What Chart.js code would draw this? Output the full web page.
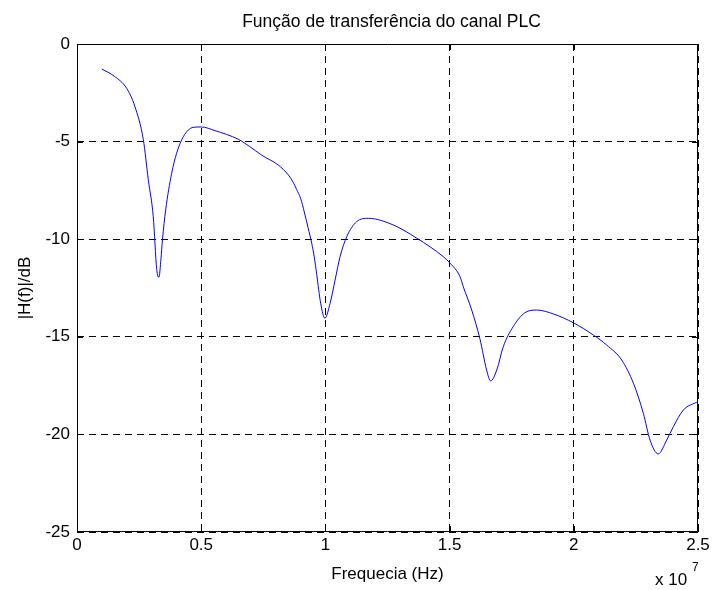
<!DOCTYPE html>
<html>
<head>
<meta charset="utf-8">
<script src="https://cdn.jsdelivr.net/npm/chart.js@4/dist/chart.umd.min.js"></script>
<style>
  html, body { margin: 0; padding: 0; background: #fff; }
  #wrap { width: 713px; height: 590px; }
</style>
</head>
<body>
<div id="wrap"><canvas id="plc_chart" width="713" height="590"></canvas></div>
<script>
// frequency in units of 1e7 Hz
var freqs = [0.10, 0.15, 0.20, 0.233, 0.267, 0.287, 0.307, 0.321, 0.330, 0.338, 0.344, 0.357, 0.381, 0.401,
             0.428, 0.468, 0.50, 0.556, 0.649, 0.696, 0.743, 0.810, 0.851, 0.871, 0.884, 0.900, 0.915, 0.930,
             0.945, 0.955, 0.965, 0.981, 0.998, 1.019, 1.039, 1.059, 1.086, 1.126, 1.173, 1.273, 1.368, 1.475, 1.502,
             1.542, 1.555, 1.589, 1.622, 1.649, 1.665, 1.690, 1.716, 1.756, 1.804, 1.851, 1.918, 1.998, 2.079,
             2.132, 2.193, 2.240, 2.280, 2.307, 2.340, 2.374, 2.401, 2.441, 2.50];
// |H(f)| in dB
var gains = [-1.28, -1.65, -2.27, -3.2, -4.9, -6.95, -8.85, -11.55, -11.95, -11.0, -10.04, -8.5, -6.63, -5.6,
             -4.75, -4.27, -4.25, -4.44, -4.88, -5.26, -5.69, -6.2, -6.71, -7.1, -7.45, -7.9, -8.6, -9.4,
             -10.21, -10.9, -11.8, -13.28, -14.05, -13.28, -12.09, -10.9, -9.87, -9.1, -8.93, -9.27, -9.95, -10.9, -11.23,
             -11.92, -12.43, -13.63, -15.1, -16.7, -17.26, -16.7, -15.51, -14.48, -13.76, -13.63, -13.83, -14.28, -14.91,
             -15.42, -16.19, -17.38, -18.92, -20.29, -21.0, -20.29, -19.6, -18.75, -18.32];
var xTicks = [0, 0.5, 1, 1.5, 2, 2.5];
var yTicks = [0, -5, -10, -15, -20, -25];

var chartTitle = 'Função de transferência do canal PLC';
var xLabel = 'Frequecia (Hz)';
var yLabel = '|H(f)|/dB';
var font = 'Arial, "Liberation Sans", Helvetica, sans-serif';

// box, inward ticks, title and the x 10^7 multiplier, MATLAB style
var matlabAxes = {
  id: 'matlabAxes',
  afterDraw: function(chart) {
    var ctx = chart.ctx;
    var a = chart.chartArea;
    var xs = chart.scales.x, ys = chart.scales.y;
    ctx.save();
    ctx.strokeStyle = '#000';
    ctx.lineWidth = 1;
    ctx.setLineDash([]);
    ctx.beginPath();
    ctx.rect(a.left + 0.5, a.top + 0.5, a.right - a.left - 1, a.bottom - a.top - 1);
    xTicks.forEach(function(t) {
      var px = Math.round(xs.getPixelForValue(t)) + 0.5;
      ctx.moveTo(px, a.bottom); ctx.lineTo(px, a.bottom - 6);
      ctx.moveTo(px, a.top); ctx.lineTo(px, a.top + 6);
    });
    yTicks.forEach(function(t) {
      var py = Math.round(ys.getPixelForValue(t)) + 0.5;
      ctx.moveTo(a.left, py); ctx.lineTo(a.left + 6, py);
      ctx.moveTo(a.right, py); ctx.lineTo(a.right - 6, py);
    });
    ctx.stroke();

    ctx.fillStyle = '#000';
    ctx.font = '17.5px ' + font;
    ctx.textAlign = 'center';
    ctx.textBaseline = 'middle';
    ctx.fillText(chartTitle, (a.left + a.right) / 2 + 4, 22);

    ctx.font = '17px ' + font;
    ctx.textAlign = 'left';
    ctx.fillText('x 10', 655, 580);
    ctx.font = '12px ' + font;
    ctx.fillText('7', 692, 568);
    ctx.restore();
  }
};

var ctx = document.getElementById('plc_chart').getContext('2d');
var plcChart = new Chart(ctx, {
  type: 'line',
  data: {
    datasets: [{
      data: freqs.map(function(f, i) { return { x: f, y: gains[i] }; }),
      borderColor: '#0000ff',
      borderWidth: 1,
      pointRadius: 0,
      fill: false,
      cubicInterpolationMode: 'monotone'
    }]
  },
  options: {
    responsive: false,
    animation: false,
    events: [],
    layout: { padding: { top: 44, right: 15, left: 0, bottom: 0 } },
    plugins: {
      legend: { display: false },
      tooltip: { enabled: false },
      title: { display: false }
    },
    scales: {
      x: {
        type: 'linear',
        min: 0,
        max: 2.5,
        afterFit: function(scale) { scale.height = 58; },
        afterBuildTicks: function(scale) { scale.ticks = xTicks.map(function(v) { return { value: v }; }); },
        grid: { color: '#000', lineWidth: 1, drawTicks: false },
        border: { display: false, dash: [7, 5] },
        ticks: {
          color: '#000', padding: 3, maxRotation: 0, font: { family: font, size: 17 },
          callback: function(value) { return String(value); }
        },
        title: { display: true, text: xLabel, color: '#000', padding: { top: 0, bottom: 5 }, font: { family: font, size: 17 } }
      },
      y: {
        type: 'linear',
        min: -25,
        max: 0,
        afterFit: function(scale) { scale.width = 77; },
        afterBuildTicks: function(scale) { scale.ticks = yTicks.map(function(v) { return { value: v }; }); },
        grid: { color: '#000', lineWidth: 1, drawTicks: false },
        border: { display: false, dash: [7, 5] },
        ticks: {
          color: '#000', padding: 7, font: { family: font, size: 17 },
          callback: function(value) { return String(value); }
        },
        title: { display: true, text: yLabel, color: '#000', padding: { top: 15, bottom: 0 }, font: { family: font, size: 17 } }
      }
    }
  },
  plugins: [matlabAxes]
});
</script>
</body>
</html>
